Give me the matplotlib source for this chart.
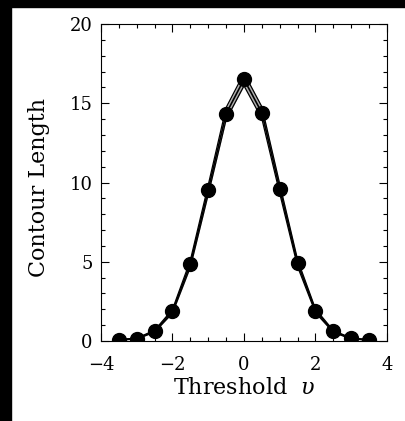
import matplotlib
matplotlib.use("Agg")
import matplotlib.pyplot as plt
from matplotlib.patches import Rectangle
from matplotlib.ticker import MultipleLocator

plt.rcParams.update({
    "font.family": "DejaVu Serif",
    "mathtext.fontset": "dejavuserif",
    "font.size": 12,
})

# contour length vs threshold
threshold = [-3.5, -3.0, -2.5, -2.0, -1.5, -1.0, -0.5, 0.0,
             0.5, 1.0, 1.5, 2.0, 2.5, 3.0, 3.5]
length = [0.08, 0.15, 0.62, 1.88, 4.88, 9.55, 14.35, 16.5,
          14.4, 9.6, 4.9, 1.9, 0.6, 0.16, 0.07]
# half-width of the theory band
band = [0.02, 0.03, 0.06, 0.12, 0.22, 0.3, 0.38, 0.4,
        0.38, 0.3, 0.22, 0.12, 0.06, 0.03, 0.02]

xticks = [-4, -2, 0, 2, 4]
yticks = [0, 5, 10, 15, 20]

lo = [v - b for v, b in zip(length, band)]
hi = [v + b for v, b in zip(length, band)]

fig = plt.figure(figsize=(4.06, 4.21), dpi=100)
# black strips along the top and left edge of the original screenshot
fig.patches.append(Rectangle((0, 1 - 7 / 421), 1, 7 / 421,
                             transform=fig.transFigure, color="black"))
fig.patches.append(Rectangle((0, 0), 11 / 406, 1,
                             transform=fig.transFigure, color="black"))

ax = fig.add_axes([101 / 406, 80 / 421, 286 / 406, 317 / 421])
ax.fill_between(threshold, lo, hi, color="#b0b0b0", lw=0)
ax.plot(threshold, lo, color="black", lw=0.9)
ax.plot(threshold, hi, color="black", lw=0.9)
ax.plot(threshold, length, color="black", lw=1.2, marker="o", ms=10)

ax.set_xlim(-4, 4)
ax.set_ylim(0, 20)
ax.set_xticks(xticks)
ax.set_yticks(yticks)
ax.set_xticklabels(["\u22124", "\u22122", "0", "2", "4"])
ax.xaxis.set_minor_locator(MultipleLocator(0.5))
ax.yaxis.set_minor_locator(MultipleLocator(1))
ax.tick_params(which="both", direction="in", top=True, right=True,
               width=0.8, labelsize=13)
ax.tick_params(which="major", length=6)
ax.tick_params(which="minor", length=3)
ax.tick_params(axis="x", pad=11)
ax.tick_params(axis="y", pad=6)
for s in ax.spines.values():
    s.set_linewidth(0.8)

ax.set_xlabel(r"Threshold  $\upsilon$", fontsize=16)
ax.set_ylabel("Contour Length", fontsize=16)
ax.xaxis.set_label_coords(0.5, -0.115)
ax.yaxis.set_label_coords(-0.18, 0.484)

fig.savefig("out.png", dpi=100)
plt.close(fig)
